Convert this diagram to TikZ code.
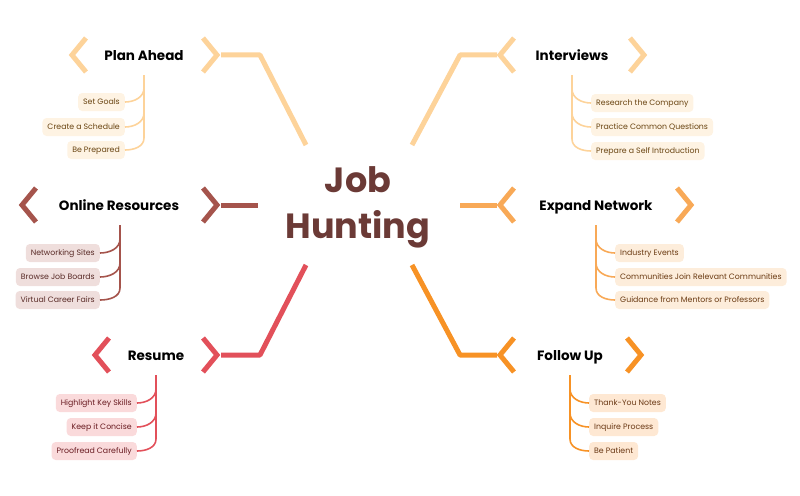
\documentclass[tikz,border=0pt]{standalone}
\usepackage{fontspec}
\setmainfont{Poppins}
\usetikzlibrary{calc}
\definecolor{cPlan}{HTML}{FDD39A}
\definecolor{cOnl}{HTML}{A5544C}
\definecolor{cRes}{HTML}{E2505A}
\definecolor{cExp}{HTML}{F8A957}
\definecolor{cFol}{HTML}{F79225}
\definecolor{cCenter}{HTML}{6B3A36}
\definecolor{fPlan}{HTML}{FEF3E3}
\definecolor{fOnl}{HTML}{EFDEDC}
\definecolor{fRes}{HTML}{FADADB}
\definecolor{fExp}{HTML}{FDEDDB}
\definecolor{fFol}{HTML}{FEE8D3}
\definecolor{tPlan}{HTML}{6A4512}
\definecolor{tOnl}{HTML}{5A2C28}
\definecolor{tRes}{HTML}{6A1C22}
\definecolor{tExp}{HTML}{6A3A12}
\definecolor{tFol}{HTML}{6A3814}
\tikzset{
  branch/.style={font=\fontsize{13.5}{16}\selectfont\bfseries, text=black, inner sep=0pt, text height=10pt, text depth=0pt},
  leaf/.style={font=\fontsize{7.8}{9}\selectfont, rounded corners=4pt, minimum height=18pt, inner xsep=5pt, inner ysep=0pt, text height=6pt, text depth=1.5pt},
  chev/.style={line width=5pt, line join=miter, line cap=butt},
  trunk/.style={line width=5pt, line join=round},
  twig/.style={line width=1.6pt},
}
\begin{document}
\begin{tikzpicture}[x=1pt,y=-1pt]
\useasboundingbox (0,0) rectangle (800,495);
% center
\node[text=cCenter, font=\fontsize{35}{46}\selectfont\bfseries, align=center, inner sep=0pt] (center) at (358,207) {Job\\Hunting};
\coordinate (cTL) at (306,145);
\coordinate (cL) at (258,205);
\coordinate (cBL) at (306,265);
\coordinate (cTR) at (412,145);
\coordinate (cR) at (460,205);
\coordinate (cBR) at (412,265);

% ---------- Plan Ahead ----------
\node[branch] (pa) at (144,55) {Plan Ahead};
\draw[chev,cPlan] (86,38) -- (72,55) -- (86,72);
\draw[chev,cPlan] (203,38) -- (217,55) -- (203,72);
\coordinate (paR) at (221,55);
\coordinate (paK) at (260,55);
\draw[trunk,cPlan] (paR) -- (paK) -- (cTL);
\node[leaf,fill=fPlan,text=tPlan,anchor=east] (pa1) at (125,102) {Set Goals};
\node[leaf,fill=fPlan,text=tPlan,anchor=east] (pa2) at (125,127) {Create a Schedule};
\node[leaf,fill=fPlan,text=tPlan,anchor=east] (pa3) at (125,150) {Be Prepared};
\coordinate (paV) at (144,75);
\draw[twig,cPlan] (paV) -- (144,138) to[out=-90,in=0] (pa3.east);
\draw[twig,cPlan] (144,88) to[out=-90,in=0] (pa1.east);
\draw[twig,cPlan] (144,113) to[out=-90,in=0] (pa2.east);

% ---------- Online Resources ----------
\node[branch] (on) at (119,205) {Online Resources};
\draw[chev,cOnl] (36,188) -- (22,205) -- (36,222);
\draw[chev,cOnl] (203,188) -- (217,205) -- (203,222);
\coordinate (onR) at (221,205);
\draw[trunk,cOnl] (onR) -- (cL);
\node[leaf,fill=fOnl,text=tOnl,anchor=east] (on1) at (100,253) {Networking Sites};
\node[leaf,fill=fOnl,text=tOnl,anchor=east] (on2) at (100,277) {Browse Job Boards};
\node[leaf,fill=fOnl,text=tOnl,anchor=east] (on3) at (100,300) {Virtual Career Fairs};
\coordinate (onV) at (120,225);
\draw[twig,cOnl] (onV) -- (120,288) to[out=-90,in=0] (on3.east);
\draw[twig,cOnl] (120,239) to[out=-90,in=0] (on1.east);
\draw[twig,cOnl] (120,263) to[out=-90,in=0] (on2.east);

% ---------- Resume ----------
\node[branch] (re) at (156,355) {Resume};
\draw[chev,cRes] (109,338) -- (95,355) -- (109,372);
\draw[chev,cRes] (203,338) -- (217,355) -- (203,372);
\coordinate (reR) at (221,355);
\coordinate (reK) at (260,355);
\draw[trunk,cRes] (reR) -- (reK) -- (cBL);
\node[leaf,fill=fRes,text=tRes,anchor=east] (re1) at (137,403) {Highlight Key Skills};
\node[leaf,fill=fRes,text=tRes,anchor=east] (re2) at (137,427) {Keep it Concise};
\node[leaf,fill=fRes,text=tRes,anchor=east] (re3) at (137,451) {Proofread Carefully};
\coordinate (reV) at (156,375);
\draw[twig,cRes] (reV) -- (156,439) to[out=-90,in=0] (re3.east);
\draw[twig,cRes] (156,389) to[out=-90,in=0] (re1.east);
\draw[twig,cRes] (156,413) to[out=-90,in=0] (re2.east);

% ---------- Interviews ----------
\node[branch] (iv) at (572,55) {Interviews};
\draw[chev,cPlan] (514,38) -- (500,55) -- (514,72);
\draw[chev,cPlan] (630,38) -- (644,55) -- (630,72);
\coordinate (ivL) at (497,55);
\coordinate (ivK) at (460,55);
\draw[trunk,cPlan] (cTR) -- (ivK) -- (ivL);
\node[leaf,fill=fPlan,text=tPlan,anchor=west] (iv1) at (591,103) {Research the Company};
\node[leaf,fill=fPlan,text=tPlan,anchor=west] (iv2) at (591,127) {Practice Common Questions};
\node[leaf,fill=fPlan,text=tPlan,anchor=west] (iv3) at (591,151) {Prepare a Self Introduction};
\coordinate (ivV) at (572,75);
\draw[twig,cPlan] (ivV) -- (572,139) to[out=-90,in=180] (iv3.west);
\draw[twig,cPlan] (572,89) to[out=-90,in=180] (iv1.west);
\draw[twig,cPlan] (572,113) to[out=-90,in=180] (iv2.west);

% ---------- Expand Network ----------
\node[branch] (ex) at (596,205) {Expand Network};
\draw[chev,cExp] (514,188) -- (500,205) -- (514,222);
\draw[chev,cExp] (677,188) -- (691,205) -- (677,222);
\coordinate (exL) at (497,205);
\draw[trunk,cExp] (cR) -- (exL);
\node[leaf,fill=fExp,text=tExp,anchor=west] (ex1) at (615,253) {Industry Events};
\node[leaf,fill=fExp,text=tExp,anchor=west] (ex2) at (615,277) {Communities Join Relevant Communities};
\node[leaf,fill=fExp,text=tExp,anchor=west] (ex3) at (615,300) {Guidance from Mentors or Professors};
\coordinate (exV) at (596,225);
\draw[twig,cExp] (exV) -- (596,288) to[out=-90,in=180] (ex3.west);
\draw[twig,cExp] (596,239) to[out=-90,in=180] (ex1.west);
\draw[twig,cExp] (596,263) to[out=-90,in=180] (ex2.west);

% ---------- Follow Up ----------
\node[branch] (fo) at (570,355) {Follow Up};
\draw[chev,cFol] (514,338) -- (500,355) -- (514,372);
\draw[chev,cFol] (627,338) -- (641,355) -- (627,372);
\coordinate (foL) at (497,355);
\coordinate (foK) at (460,355);
\draw[trunk,cFol] (cBR) -- (foK) -- (foL);
\node[leaf,fill=fFol,text=tFol,anchor=west] (fo1) at (589,403) {Thank-You Notes};
\node[leaf,fill=fFol,text=tFol,anchor=west] (fo2) at (589,427) {Inquire Process};
\node[leaf,fill=fFol,text=tFol,anchor=west] (fo3) at (589,451) {Be Patient};
\coordinate (foV) at (570,375);
\draw[twig,cFol] (foV) -- (570,439) to[out=-90,in=180] (fo3.west);
\draw[twig,cFol] (570,389) to[out=-90,in=180] (fo1.west);
\draw[twig,cFol] (570,413) to[out=-90,in=180] (fo2.west);
\end{tikzpicture}
\end{document}
